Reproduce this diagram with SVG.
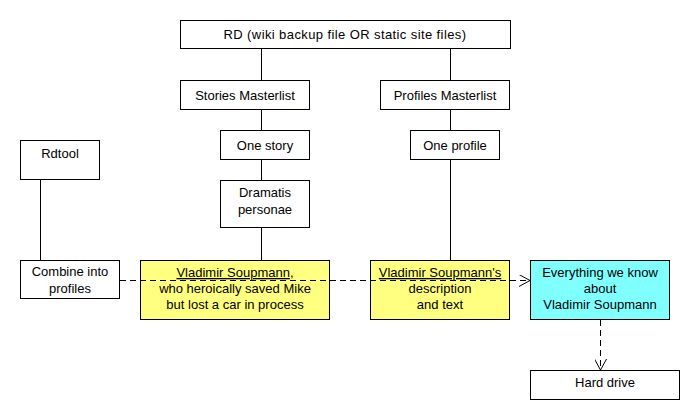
<svg xmlns="http://www.w3.org/2000/svg" width="700" height="420" viewBox="0 0 700 420">
<defs>
<style>
.b{fill:#fff;stroke:#000;stroke-width:1}
.y{fill:#ffff80;stroke:#000;stroke-width:1}
.c{fill:#80ffff;stroke:#000;stroke-width:1}
text{font-family:"Liberation Sans",Arial,sans-serif;font-size:13px;fill:#000;text-anchor:middle}
.u{text-decoration:underline}
.l{stroke:#000;stroke-width:1;fill:none}
.d{stroke:#000;stroke-width:1;fill:none;stroke-dasharray:6,4}
</style>
<marker id="arr" viewBox="0 0 12 12" refX="11" refY="6" markerWidth="12" markerHeight="12" markerUnits="userSpaceOnUse" orient="auto">
<path d="M0,0 L11,6 L0,12" fill="none" stroke="#000" stroke-width="1"/>
</marker>
</defs>
<rect width="700" height="420" fill="#fff"/>
<g id="rd"><rect class="b" x="180.5" y="20.5" width="330" height="28"/><text x="345" y="39" style="letter-spacing:0.4px">RD (wiki backup file OR static site files)</text></g>
<g id="stories"><rect class="b" x="180.5" y="80.5" width="129" height="29"/><text x="245" y="100">Stories Masterlist</text></g>
<g id="profiles"><rect class="b" x="380.5" y="80.5" width="129" height="29"/><text x="445" y="100">Profiles Masterlist</text></g>
<g id="onestory"><rect class="b" x="220.5" y="130.5" width="89" height="29"/><text x="265" y="150">One story</text></g>
<g id="oneprofile"><rect class="b" x="410.5" y="130.5" width="89" height="29"/><text x="455" y="150">One profile</text></g>
<g id="dramatis"><rect class="b" x="220.5" y="180.5" width="89" height="47"/><text x="265" y="197">Dramatis</text><text x="265" y="214">personae</text></g>
<g id="rdtool"><rect class="b" x="20.5" y="140.5" width="79" height="39"/><text x="60" y="158">Rdtool</text></g>
<g id="combine"><rect class="b" x="20.5" y="260.5" width="99" height="38"/><text x="70" y="276">Combine into</text><text x="70" y="293">profiles</text></g>
<g id="vs1"><rect class="y" x="140.5" y="260.5" width="189" height="59"/><text x="235" y="277"><tspan class="u">Vladimir Soupmann</tspan>,</text><text x="235" y="293">who heroically saved Mike</text><text x="235" y="309">but lost a car in process</text></g>
<g id="vs2"><rect class="y" x="370.5" y="260.5" width="139" height="59"/><text x="440" y="277" class="u">Vladimir Soupmann's</text><text x="440" y="293">description</text><text x="440" y="309">and text</text></g>
<g id="everything"><rect class="c" x="530.5" y="260.5" width="139" height="59"/><text x="600" y="277">Everything we know</text><text x="600" y="293">about</text><text x="600" y="309">Vladimir Soupmann</text></g>
<g id="harddrive"><rect class="b" x="530.5" y="370.5" width="149" height="29"/><text x="605" y="387">Hard drive</text></g>
<g id="connectors">
<line class="l" x1="261.5" y1="48" x2="261.5" y2="80"/>
<line class="l" x1="450.5" y1="48" x2="450.5" y2="80"/>
<line class="l" x1="261.5" y1="110" x2="261.5" y2="130"/>
<line class="l" x1="261.5" y1="160" x2="261.5" y2="180"/>
<line class="l" x1="261.5" y1="228" x2="261.5" y2="260"/>
<line class="l" x1="450.5" y1="110" x2="450.5" y2="130"/>
<line class="l" x1="450.5" y1="160" x2="450.5" y2="260"/>
<line class="l" x1="40.5" y1="180" x2="40.5" y2="260"/>
<line class="d" x1="120" y1="280.5" x2="530" y2="280.5" marker-end="url(#arr)"/>
<line class="d" x1="600.5" y1="320" x2="600.5" y2="370" marker-end="url(#arr)"/>
</g>
</svg>
